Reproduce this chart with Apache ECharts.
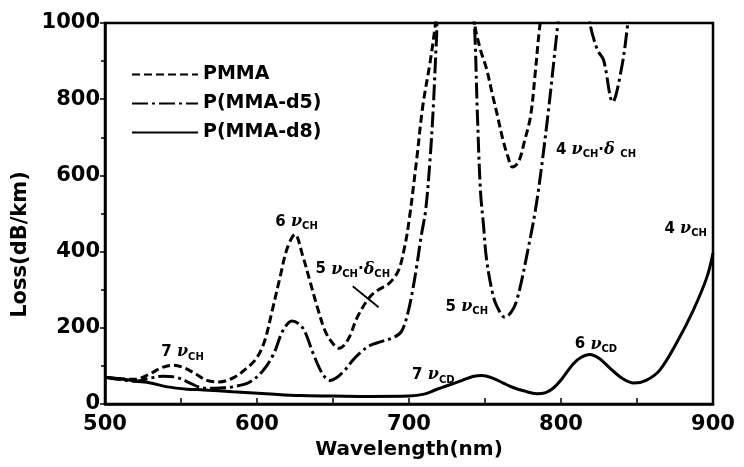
<!DOCTYPE html>
<html>
<head>
<meta charset="utf-8">
<script src="https://cdn.jsdelivr.net/npm/echarts@6/dist/echarts.min.js"></script>
<style>html,body{margin:0;padding:0;background:#fff}#c{width:744px;height:467px}</style>
</head>
<body>
<div id="c"></div>
<script>
// ---- data ----
var xTicks = [500, 600, 700, 800, 900];
var yTicks = [0, 200, 400, 600, 800, 1000];

var pmmaWl  = [500,510,520,530,537,545,552,560,567,575,585,595,600,605,610,615,620,625,630,635,640,645,650,654,660,666,674,680,687,693,697,700,705,709,714,717,720,730,741,743,747,751,755,758,762,765,768,772,776,780,783,786,790,800];
var pmmaVal = [70,66,65,80,95,102,95,78,62,58,70,100,122,165,245,330,410,445,390,320,250,190,158,146,170,228,280,300,317,350,410,480,640,780,900,985,1080,1200,1080,1000,930,880,810,760,690,650,622,635,690,756,867,990,1100,1300];

var d5Wl  = [500,510,520,530,538,547,556,562,568,576,584,595,604,611,617,623,630,637,643,648,652,658,663,668,674,681,690,695,699,702,705,708,711,714,716,718,720,730,741,743,745,747,749,751,755,758,763,767,771,778,784,791,798,801,810,817,819,824,828,834,840,844,847,860];
var d5Val = [70,64,60,68,73,70,55,44,41,42,45,57,88,132,192,218,200,132,80,62,68,90,115,135,153,163,175,190,235,290,360,440,510,650,780,950,1080,1200,1080,1000,760,560,470,380,290,255,228,240,273,400,530,745,1000,1100,1200,1080,1000,929,903,793,885,1000,1100,1200];

var d8Wl  = [500,510,520,530,541,554,565,584,606,628,650,675,700,710,718,725,735,742,748,755,762,768,776,784,790,795,800,808,813,819,825,832,840,848,856,865,876,887,896,900];
var d8Val = [70,66,60,55,45,39,37,32,27,22,21,20,21,26,38,48,62,72,75,68,55,44,34,27,30,42,63,105,122,130,120,95,68,55,62,89,160,246,333,396];

var seriesNames = ['PMMA', 'P(MMA-d5)', 'P(MMA-d8)'];

// band annotations: position in data space and label
var annotWl  = [551, 626, 663, 823, 738, 716, 823, 882];
var annotVal = [136, 478, 353, 667, 255, 76, 156, 460];
var annotText = [
  '{n|7 }{g|ν}{s|CH}',
  '{n|6 }{g|ν}{s|CH}',
  '{n|5 }{g|ν}{s|CH}{n|·}{g|δ}{s|CH}',
  '{n|4 }{g|ν}{s|CH}{n|·}{g|δ }{s|CH}',
  '{n|5 }{g|ν}{s|CH}',
  '{n|7 }{g|ν}{s|CD}',
  '{n|6 }{g|ν}{s|CD}',
  '{n|4 }{g|ν}{s|CH}'
];
// pointer line for the 5νCH·δCH band
var pointerWl = [663, 680];
var pointerVal = [309, 254];

function pairs(xs, ys) { return xs.map(function (x, i) { return [x, ys[i]]; }); }

var FONT = 'DejaVu Sans';
var chart = echarts.init(document.getElementById('c'), null, {renderer: 'canvas'});

var annotData = annotWl.map(function (x, i) {
  return {value: [x, annotVal[i]], label: {formatter: annotText[i]}};
});

chart.setOption({
  animation: false,
  backgroundColor: '#fff',
  grid: {left: 105, right: 31, top: 23, bottom: 63, show: true, borderColor: '#000', borderWidth: 2.5, backgroundColor: 'transparent'},
  legend: {
    data: seriesNames,
    orient: 'vertical',
    left: 126, top: 60,
    itemWidth: 66, itemHeight: 20, itemGap: 10,
    itemStyle: {opacity: 0},
    textStyle: {fontFamily: FONT, fontWeight: 'bold', fontSize: 19, color: '#000'}
  },
  xAxis: {
    type: 'value', min: 500, max: 900, interval: 100,
    name: 'Wavelength(nm)', nameLocation: 'middle', nameGap: 32,
    nameTextStyle: {fontFamily: FONT, fontWeight: 'bold', fontSize: 20, color: '#000'},
    axisLine: {lineStyle: {color: '#000', width: 2.5}},
    axisTick: {inside: true, length: 6, lineStyle: {color: '#000', width: 1.5}},
    minorTick: {show: true, splitNumber: 2, length: 6, lineStyle: {color: '#000', width: 1.5}},
    axisLabel: {margin: 10, fontFamily: FONT, fontWeight: 'bold', fontSize: 21, color: '#000',
      formatter: function (v) { return String(v); }},
    splitLine: {show: false}
  },
  yAxis: {
    type: 'value', min: 0, max: 1000, interval: 200,
    name: 'Loss(dB/km)', nameLocation: 'middle', nameGap: 64, nameRotate: 90,
    nameTextStyle: {fontFamily: FONT, fontWeight: 'bold', fontSize: 21, color: '#000', padding: [0, 62, 0, 0]},
    axisLine: {lineStyle: {color: '#000', width: 2.5}},
    axisTick: {inside: false, length: 5, lineStyle: {color: '#000', width: 1.5}},
    minorTick: {show: true, splitNumber: 2, length: 4, lineStyle: {color: '#000', width: 1.5}},
    axisLabel: {margin: 5, fontFamily: FONT, fontWeight: 'bold', fontSize: 21, color: '#000',
      formatter: function (v) { return String(v); }},
    splitLine: {show: false}
  },
  series: [
    {
      name: seriesNames[0], type: 'line', data: pairs(pmmaWl, pmmaVal),
      symbol: 'none', smooth: 0.35, clip: true,
      lineStyle: {color: '#000', width: 3, type: [8, 4]},
      itemStyle: {color: '#000'},
      markLine: {
        silent: true, symbol: ['none', 'none'], label: {show: false},
        lineStyle: {color: '#000', width: 1.8, type: 'solid'},
        data: [[{coord: [pointerWl[0], pointerVal[0]]}, {coord: [pointerWl[1], pointerVal[1]]}]]
      }
    },
    {
      name: seriesNames[1], type: 'line', data: pairs(d5Wl, d5Val),
      symbol: 'none', smooth: 0.35, clip: true,
      lineStyle: {color: '#000', width: 3, type: [16, 4, 3, 4]},
      itemStyle: {color: '#000'}
    },
    {
      name: seriesNames[2], type: 'line', data: pairs(d8Wl, d8Val),
      symbol: 'none', smooth: 0.35, clip: true,
      lineStyle: {color: '#000', width: 3, type: 'solid'},
      itemStyle: {color: '#000'}
    },
    {
      name: 'bands', type: 'scatter', data: annotData, symbolSize: 0, silent: true,
      itemStyle: {color: '#000', opacity: 1},
      label: {
        show: true, position: 'inside', color: '#000', opacity: 1,
        textBorderWidth: 0,
        rich: {
          n: {fontFamily: FONT, fontWeight: 'bold', fontSize: 15, color: '#000', lineHeight: 20, verticalAlign: 'middle', textBorderWidth: 0},
          g: {fontFamily: 'DejaVu Serif', fontStyle: 'italic', fontWeight: 'bold', fontSize: 16, color: '#000', lineHeight: 20, verticalAlign: 'middle', textBorderWidth: 0},
          s: {fontFamily: FONT, fontWeight: 'bold', fontSize: 10, color: '#000', lineHeight: 20, verticalAlign: 'bottom', padding: [6, 0, 0, 0], textBorderWidth: 0}
        }
      }
    }
  ]
});
</script>
</body>
</html>
